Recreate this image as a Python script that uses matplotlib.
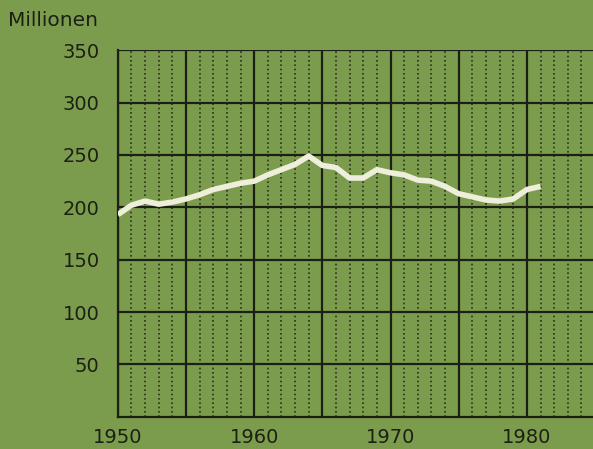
import matplotlib
matplotlib.use("Agg")
import matplotlib.pyplot as plt
import numpy as np

years = [1950, 1951, 1952, 1953, 1954, 1955, 1956, 1957, 1958, 1959, 1960,
         1961, 1962, 1963, 1964, 1965, 1966, 1967, 1968, 1969, 1970, 1971,
         1972, 1973, 1974, 1975, 1976, 1977, 1978, 1979, 1980, 1981]
values = [193, 202, 206, 203, 205, 208, 212, 217, 220, 223, 225,
          231, 236, 241, 249, 240, 238, 228, 228, 236, 233, 231,
          226, 225, 220, 213, 210, 207, 206, 208, 217, 220]
y_ticks = [50, 100, 150, 200, 250, 300, 350]
x_ticks = [1950, 1960, 1970, 1980]
x_major = [1950, 1955, 1960, 1965, 1970, 1975, 1980]
x_minor = [y for y in range(1951, 1985) if y % 5 != 0]

bg = "#7b9c4d"
ink = "#1c1f14"
plt.rcParams['font.family'] = ['DejaVu Sans']

fig = plt.figure(figsize=(5.93, 4.49), dpi=100, facecolor=bg)
ax = fig.add_axes([117.8/593, 32.3/449, 1 - 117.8/593, (416.7-50.3)/449])
ax.set_facecolor(bg)
ax.set_xlim(1950, 1984.85)
ax.set_ylim(0, 350)

for x in x_minor:
    ax.axvline(x, color=ink, lw=1.2, linestyle=(0, (1, 1.6)), alpha=0.85, zorder=1)
for x in x_major:
    ax.axvline(x, color=ink, lw=1.6, zorder=2)
for y in y_ticks:
    ax.axhline(y, color=ink, lw=1.6, zorder=2)

ax.plot(years, values, color="#efeedb", lw=4, solid_capstyle='butt',
        solid_joinstyle='round', zorder=3)

for s in ['top', 'right']:
    ax.spines[s].set_visible(False)
for s in ['left', 'bottom']:
    ax.spines[s].set_color(ink)
    ax.spines[s].set_linewidth(1.6)

ax.set_xticks(x_ticks)
ax.set_xticklabels([str(v) for v in x_ticks])
ax.set_yticks(y_ticks)
ax.set_yticklabels([str(v) for v in y_ticks])
ax.tick_params(axis='both', length=0, labelsize=14, colors=ink)
ax.tick_params(axis='y', pad=13)
ax.tick_params(axis='x', pad=8)

fig.text(8/593, 1 - 26/449, "Millionen", fontsize=14.5, color=ink, ha='left', va='baseline')

fig.savefig("out.png", dpi=100, facecolor=bg)
